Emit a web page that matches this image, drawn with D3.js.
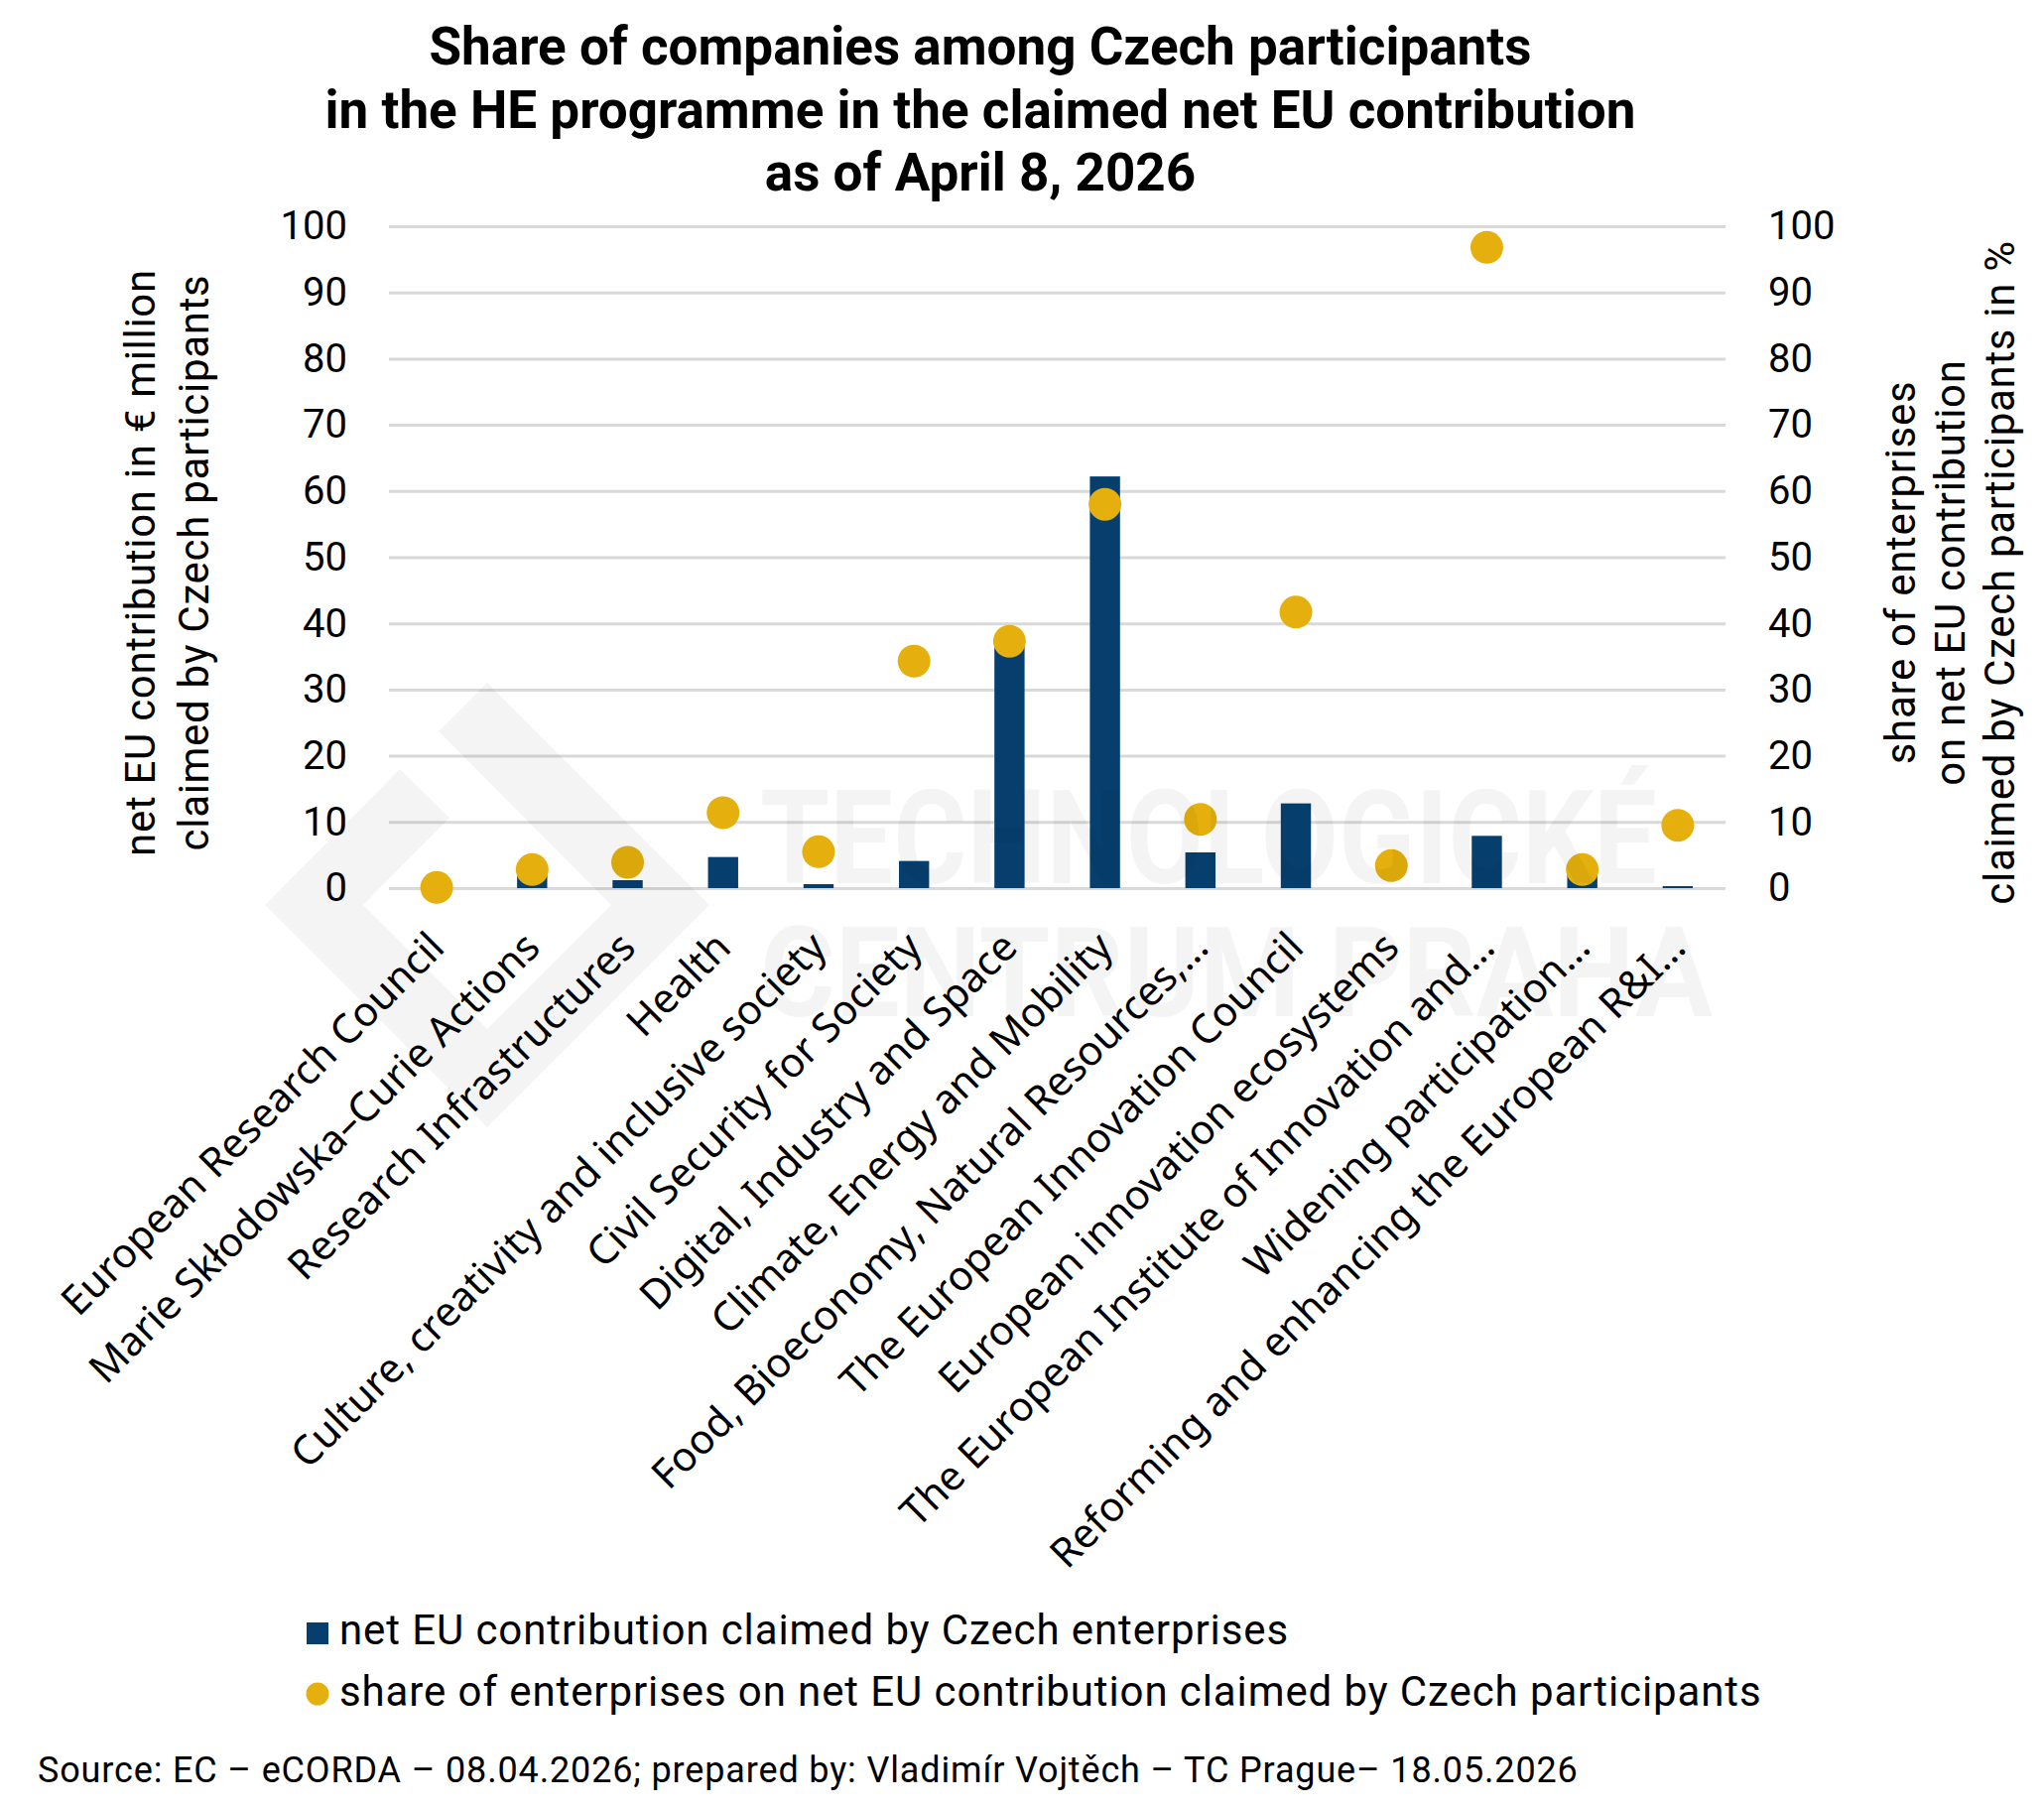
<!DOCTYPE html>
<html>
<head>
<meta charset="utf-8">
<title>Share of companies among Czech participants in HE</title>
<script src="https://d3js.org/d3.v7.min.js"></script>
<style>
  body { margin: 0; background: #fff; }
  svg { display: block; }
  text { fill: #000; }
  .title { font-family: Roboto, sans-serif; font-weight: 700; font-size: 53px; }
  .axis-label { font-family: Roboto, sans-serif; font-size: 42px; letter-spacing: 0.7px; }
  .tick-label { font-family: Roboto, sans-serif; font-size: 40px; }
  .cat-label { font-family: "Noto Sans", sans-serif; font-size: 41px; }
  .legend-text { font-family: Roboto, sans-serif; font-size: 42px; letter-spacing: 0.9px; }
  .source { font-family: Roboto, sans-serif; font-size: 36px; letter-spacing: 0.85px; }
  .wm { font-family: Roboto, sans-serif; font-weight: 700; }
</style>
</head>
<body>
<div id="chart"></div>
<script>
// --- data ---
const categories = [
  "European Research Council",
  "Marie Skłodowska–Curie Actions",
  "Research Infrastructures",
  "Health",
  "Culture, creativity and inclusive society",
  "Civil Security for Society",
  "Digital, Industry and Space",
  "Climate, Energy and Mobility",
  "Food, Bioeconomy, Natural Resources,…",
  "The European Innovation Council",
  "European innovation ecosystems",
  "The European Institute of Innovation and…",
  "Widening participation…",
  "Reforming and enhancing the European R&I…"
];
// net EU contribution claimed by Czech enterprises, € million
const netContribution = [0, 2.0, 1.2, 4.7, 0.6, 4.1, 37.0, 62.2, 5.4, 12.8, 0, 7.9, 2.5, 0.3];
// share of enterprises on net EU contribution claimed by Czech participants, %
const enterpriseShare = [0.1, 2.8, 3.9, 11.4, 5.5, 34.3, 37.3, 58.0, 10.4, 41.7, 3.4, 96.8, 2.8, 9.5];
const tickValues = [0, 10, 20, 30, 40, 50, 60, 70, 80, 90, 100];

const titleLines = [
  "Share of companies among Czech participants",
  "in the HE programme in the claimed net EU contribution",
  "as of April 8, 2026"
];
const leftTitleLines = ["net EU contribution in € million", "claimed by Czech participants"];
const rightTitleLines = ["share of enterprises", "on net EU contribution", "claimed by Czech participants in %"];
const legendLabels = [
  "net EU contribution claimed by Czech enterprises",
  "share of enterprises on net EU contribution claimed by Czech participants"
];
const sourceNote = "Source: EC – eCORDA – 08.04.2026; prepared by: Vladimír Vojtěch – TC Prague– 18.05.2026";
const watermarkLines = ["TECHNOLOGICKÉ", "CENTRUM PRAHA"];

// --- layout ---
const W = 2060, H = 1823;
const plot = { left: 392, right: 1739, top: 228, bottom: 895 };
const barColor = "#063f6e";
const dotColor = "#e5b00d";
const gridColor = "#d9d9d9";

const svg = d3.select("#chart").append("svg")
  .attr("width", W)
  .attr("height", H);

svg.append("rect").attr("width", W).attr("height", H).attr("fill", "#fff");

const x = d3.scaleBand()
  .domain(categories)
  .range([plot.left, plot.right])
  .paddingInner(0)
  .paddingOuter(0);

const yLeft = d3.scaleLinear().domain([0, 100]).range([plot.bottom, plot.top]);
const yRight = d3.scaleLinear().domain([0, 100]).range([plot.bottom, plot.top]);

// gridlines
const grid = svg.append("g")
  .attr("transform", `translate(${plot.left},0)`)
  .call(d3.axisLeft(yLeft).tickValues(tickValues).tickSize(-(plot.right - plot.left)).tickFormat(""));
grid.select(".domain").remove();
grid.selectAll("line").attr("stroke", gridColor).attr("stroke-width", 3);

// left axis labels
const leftAxis = svg.append("g")
  .attr("transform", `translate(${plot.left},0)`)
  .call(d3.axisLeft(yLeft).tickValues(tickValues).tickSize(0).tickPadding(42));
leftAxis.select(".domain").remove();
leftAxis.selectAll("text").attr("class", "tick-label").attr("fill", "#000");
leftAxis.attr("font-family", null).attr("font-size", null);

// right axis labels
const rightAxis = svg.append("g")
  .attr("transform", `translate(${plot.right},0)`)
  .call(d3.axisRight(yRight).tickValues(tickValues).tickSize(0).tickPadding(43));
rightAxis.select(".domain").remove();
rightAxis.selectAll("text").attr("class", "tick-label").attr("fill", "#000");
rightAxis.attr("font-family", null).attr("font-size", null);

// bars
const barW = x.bandwidth() * 0.316;
svg.append("g").selectAll("rect")
  .data(categories)
  .join("rect")
  .attr("x", (d) => x(d) + x.bandwidth() / 2 - barW / 2)
  .attr("y", (d, i) => yLeft(netContribution[i]))
  .attr("width", barW)
  .attr("height", (d, i) => yLeft(0) - yLeft(netContribution[i]))
  .attr("fill", barColor);

// dots
svg.append("g").selectAll("circle")
  .data(categories)
  .join("circle")
  .attr("cx", (d) => x(d) + x.bandwidth() / 2)
  .attr("cy", (d, i) => yRight(enterpriseShare[i]))
  .attr("r", 16.5)
  .attr("fill", dotColor);

// category labels
const xAxis = svg.append("g")
  .attr("transform", `translate(0,${plot.bottom})`)
  .call(d3.axisBottom(x).tickSize(0));
xAxis.select(".domain").remove();
xAxis.attr("font-family", null).attr("font-size", null);
xAxis.selectAll("text")
  .attr("class", "cat-label")
  .attr("fill", "#000")
  .attr("text-anchor", "end")
  .attr("x", 0).attr("y", 0).attr("dy", 0)
  .attr("transform", "translate(10,62) rotate(-45)");

// title
svg.append("g").selectAll("text")
  .data(titleLines)
  .join("text")
  .attr("class", "title")
  .attr("text-anchor", "middle")
  .attr("x", 988)
  .attr("y", (d, i) => 65 + i * 63.5)
  .text((d) => d);

// axis titles
svg.append("g").selectAll("text")
  .data(leftTitleLines)
  .join("text")
  .attr("class", "axis-label")
  .attr("text-anchor", "middle")
  .attr("transform", (d, i) => `translate(${156 + i * 54},567) rotate(-90)`)
  .text((d) => d);

svg.append("g").selectAll("text")
  .data(rightTitleLines)
  .join("text")
  .attr("class", "axis-label")
  .attr("text-anchor", "middle")
  .attr("transform", (d, i) => `translate(${1930 + i * 50},577) rotate(-90)`)
  .text((d) => d);

// legend
const legend = svg.append("g");
legend.append("rect")
  .attr("x", 309).attr("y", 1635).attr("width", 22).attr("height", 22)
  .attr("fill", barColor);
legend.append("circle")
  .attr("cx", 320).attr("cy", 1707).attr("r", 11.5)
  .attr("fill", dotColor);
legend.selectAll("text")
  .data(legendLabels)
  .join("text")
  .attr("class", "legend-text")
  .attr("x", 342)
  .attr("y", (d, i) => 1657 + i * 62)
  .text((d) => d);

// source
svg.append("text")
  .attr("class", "source")
  .attr("x", 38)
  .attr("y", 1796)
  .text(sourceNote);

// watermark (semi-transparent overlay on top of the chart)
const wm = svg.append("g").attr("fill", "#000").attr("fill-opacity", 0.045);
wm.append("path")
  .attr("d", "M403,775 L267,912 L491,1136 L715,912 L491,688 L442,737 L616,912 L491,1037 L366,912 L453,824 Z");
const wmSpec = [
  { x: 766, y: 890, size: 132, width: 904 },
  { x: 766, y: 1024, size: 126, width: 960 }
];
wm.selectAll("text")
  .data(watermarkLines)
  .join("text")
  .attr("class", "wm")
  .attr("font-size", (d, i) => wmSpec[i].size)
  .text((d) => d)
  .attr("transform", function (d, i) {
    const s = wmSpec[i];
    const sx = s.width / this.getComputedTextLength();
    return `translate(${s.x},${s.y}) scale(${sx},1)`;
  });
</script>
</body>
</html>
